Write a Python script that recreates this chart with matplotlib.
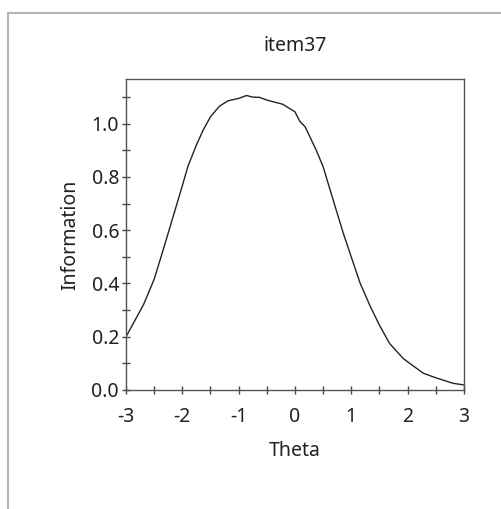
import matplotlib
matplotlib.use("Agg")
import matplotlib.pyplot as plt
from matplotlib.lines import Line2D
from matplotlib.ticker import MultipleLocator

plt.rcParams['font.family'] = ['Noto Sans', 'DejaVu Sans']

# item information curve
theta = [-3.0, -2.69, -2.5, -2.34, -2.0, -1.9, -1.75, -1.63, -1.5, -1.34, -1.19, -1.0,
         -0.86, -0.75, -0.63, -0.5, -0.215, 0.0, 0.09, 0.18, 0.38, 0.5, 0.68,
         0.86, 1.0, 1.16, 1.34, 1.5, 1.68, 1.92, 2.0, 2.28, 2.5, 2.81, 3.0]
info = [0.20, 0.32, 0.416, 0.526, 0.767, 0.84, 0.92, 0.976, 1.026, 1.066, 1.086, 1.095,
        1.106, 1.10, 1.099, 1.089, 1.073, 1.045, 1.008, 0.989, 0.90, 0.839, 0.713,
        0.588, 0.50, 0.40, 0.313, 0.244, 0.175, 0.119, 0.106, 0.063, 0.046, 0.025, 0.019]

title = "item37"
x_title = "Theta"
y_title = "Information"

fig = plt.figure(figsize=(5.02, 5.09), dpi=100)
ax = fig.add_axes([0.251, 0.2338, 0.673, 0.611])

ax.plot(theta, info, color='#222222', lw=1.0)
ax.set_xlim(-3, 3)
ax.set_ylim(0, 1.168)

ax.xaxis.set_major_locator(MultipleLocator(1))
ax.xaxis.set_minor_locator(MultipleLocator(0.5))
ax.yaxis.set_major_locator(MultipleLocator(0.2))
ax.yaxis.set_minor_locator(MultipleLocator(0.1))
ax.yaxis.set_major_formatter(matplotlib.ticker.FormatStrFormatter('%.1f'))
ax.xaxis.set_major_formatter(matplotlib.ticker.FuncFormatter(lambda v, p: '%d' % v))

for which in ['major', 'minor']:
    ax.tick_params(axis='both', which=which, direction='inout', length=6,
                   width=1, color='#444444')
ax.tick_params(axis='y', which='major', labelsize=14, pad=2, labelcolor='#222222')
ax.tick_params(axis='x', which='major', labelsize=14, pad=9, labelcolor='#222222')

for s in ax.spines.values():
    s.set_color('#555555')
    s.set_linewidth(1)

ax.set_title(title, fontsize=14, color='#222222', pad=20)
ax.set_xlabel(x_title, fontsize=14, color='#222222', labelpad=10)
ax.set_ylabel(y_title, fontsize=14, color='#222222', labelpad=8)

# outer panel border (top and left)
fig.add_artist(Line2D([8 / 502, 1], [1 - 13 / 509, 1 - 13 / 509],
                      transform=fig.transFigure, color='#b5b5b5', lw=1.5))
fig.add_artist(Line2D([8 / 502, 8 / 502], [0, 1 - 13 / 509],
                      transform=fig.transFigure, color='#b5b5b5', lw=1.5))

fig.savefig('out.png', dpi=100)
